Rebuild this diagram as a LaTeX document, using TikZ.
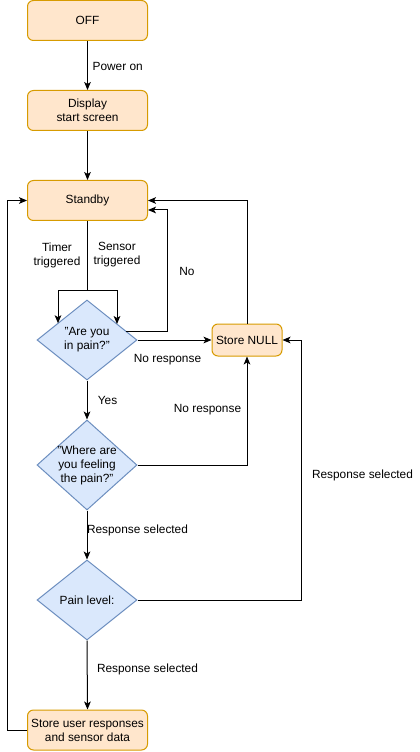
\documentclass[tikz,border=0pt]{standalone}
\usepackage{fontspec}
\setmainfont{Liberation Sans}
\usetikzlibrary{arrows.meta,shapes.geometric}
\definecolor{ofill}{HTML}{FFE6CC}
\definecolor{ostroke}{HTML}{D79B00}
\definecolor{bfill}{HTML}{DAE8FC}
\definecolor{bstroke}{HTML}{6C8EBF}
\begin{document}
\begin{tikzpicture}[x=0.75pt,y=-0.75pt,
  font=\fontsize{8.9pt}{10.5pt}\selectfont,
  state/.style={draw=ostroke, fill=ofill, rounded corners=4.5pt, minimum width=90pt, minimum height=30pt, inner sep=0pt, align=center, line width=0.75pt},
  dec/.style={draw=bstroke, fill=bfill, shape=diamond, inner sep=0pt, line width=0.75pt},
  arr/.style={-{Stealth[length=6pt,width=5pt,inset=1.5pt]}, line width=0.75pt},
  ln/.style={line width=0.75pt},
  lab/.style={align=center, inner sep=0pt}]
\useasboundingbox (0,0) rectangle (419,752);

% nodes
\node[state] (off) at (87.5,20.5) {OFF};
\node[state] (disp) at (87.5,110.5) {Display\\start screen};
\node[state] (stby) at (87.5,200.5) {Standby};
\node[dec, minimum width=75pt, minimum height=60pt,
  label={[lab]center:"Are you\\in pain?"}] (d1) at (87,340) {};
\node[state, minimum width=52.5pt, minimum height=24pt] (null) at (247,340) {Store NULL};
\node[dec, minimum width=75pt, minimum height=67.5pt,
  label={[lab]center:"Where are\\you feeling\\the pain?"}] (d2) at (87,465) {};
\node[dec, minimum width=75pt, minimum height=60pt,
  label={[lab]center:Pain level:}] (d3) at (87,600) {};
\node[state] (store) at (87.5,730) {Store user responses\\and sensor data};

% helper coordinates
\coordinate (sp) at (87.5,290);
\coordinate (spL) at (58,290);
\coordinate (spR) at (117,290);
\coordinate (eL) at (58,323.2);
\coordinate (eR) at (117,324);
\coordinate (noS) at (126,331);
\coordinate (noR) at (167,210);
\coordinate (rr) at (301,600);

% connectors
\draw[arr] (off) -- (disp) node[lab, anchor=west, pos=0.52, xshift=3.5pt] {Power on};
\draw[arr] (disp) -- (stby);
\draw[ln] (stby.south) -- (sp);
\draw[ln] (spL) -- (spR);
\draw[arr] (spL) -- (eL);
\draw[arr] (spR) -- (eR);
\draw[arr] (noS) -| (noR) -- (noR -| stby.east);
\draw[arr] (null.north) |- (stby.east);
\draw[arr] (d1.east) -- (null.west);
\draw[arr] (d2.east) -| (null.south);
\draw[arr] (d3.east) -- (rr) |- (null.east);
\draw[arr] (d1.south) -- (d2.north);
\draw[arr] (d2.south) -- (d3.north);
\draw[arr] (d3.south) -- (store.north);
\draw[arr] (store.west) -- ++(-20,0) |- (stby.west);

% labels
\node[lab] (lt) at (57,255) {Timer\\triggered};
\node[lab] (ls) at (117,255) {Sensor\\triggered};
\node[lab] (lno) at (187,271) {No};
\node[lab] (lnr1) at (167.5,360) {No response};
\node[lab] (lnr2) at (207.5,410) {No response};
\node[lab] (lyes) at (107.5,400) {Yes};
\node[lab] (lrs1) at (137.5,530) {Response selected};
\node[lab] (lrs2) at (147.5,669) {Response selected};
\node[lab] (lrs3) at (362.5,475) {Response selected};
\end{tikzpicture}
\end{document}
